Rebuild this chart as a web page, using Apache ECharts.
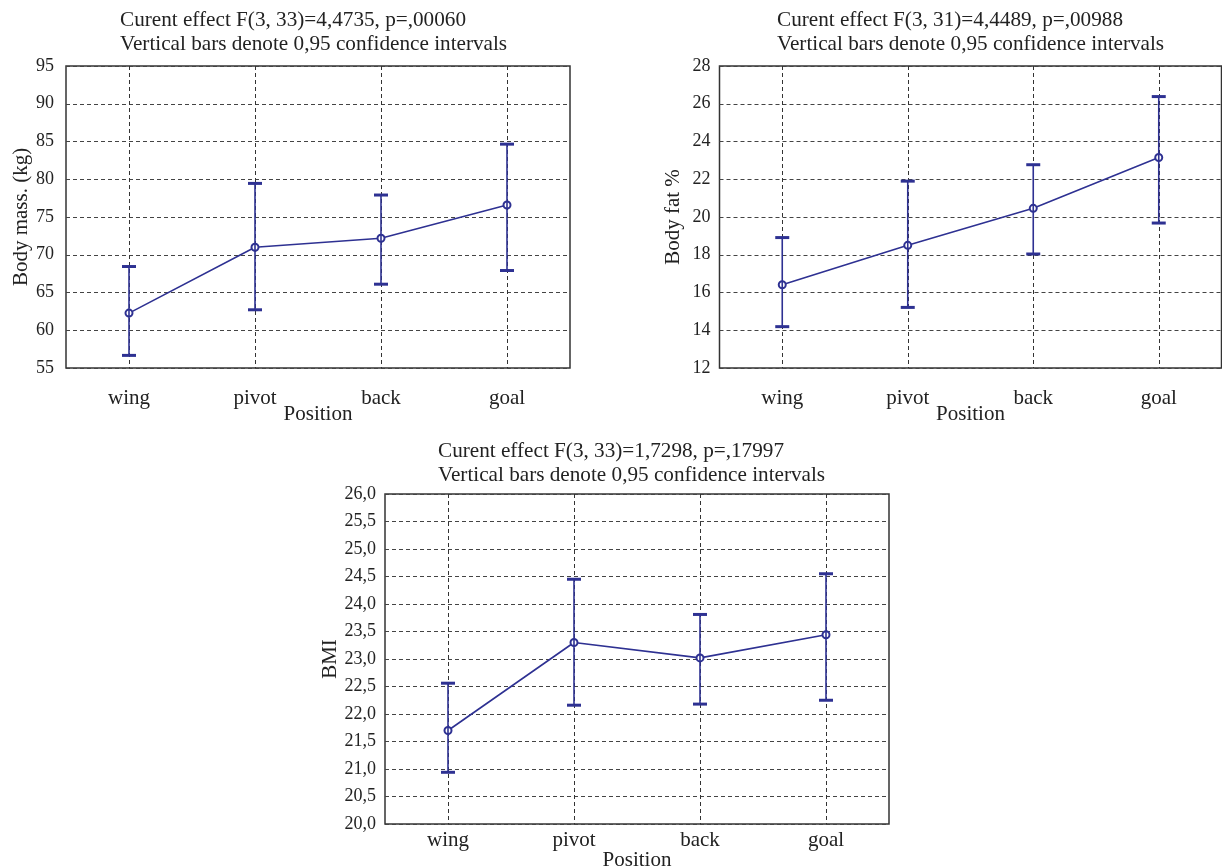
<!DOCTYPE html>
<html>
<head>
<meta charset="utf-8">
<script src="https://cdn.jsdelivr.net/npm/echarts@6/dist/echarts.min.js"></script>
<style>
html,body{margin:0;padding:0;background:#fff;overflow:hidden;}
#c{width:1222px;height:866px;}
</style>
</head>
<body>
<div id="c"></div>
<script>
const categories = ['wing', 'pivot', 'back', 'goal'];

const massMean = [62.27, 71.0, 72.18, 76.59];
const massLow  = [56.67, 62.71, 66.1, 67.91];
const massHigh = [68.44, 79.45, 77.91, 84.65];

const fatMean = [16.41, 18.5, 20.46, 23.15];
const fatLow  = [14.19, 15.21, 18.04, 19.68];
const fatHigh = [18.91, 21.9, 22.77, 26.38];

const bmiMean = [21.70, 23.30, 23.02, 23.44];
const bmiLow  = [20.94, 22.16, 22.18, 22.25];
const bmiHigh = [22.56, 24.45, 23.81, 24.55];

const massTicks = [55, 60, 65, 70, 75, 80, 85, 90, 95];
const fatTicks = [12, 14, 16, 18, 20, 22, 24, 26, 28];
const bmiTicks = [20.0, 20.5, 21.0, 21.5, 22.0, 22.5, 23.0, 23.5, 24.0, 24.5, 25.0, 25.5, 26.0];

const titles = [
  'Curent effect F(3, 33)=4,4735, p=,00060\nVertical bars denote 0,95 confidence intervals',
  'Curent effect F(3, 31)=4,4489, p=,00988\nVertical bars denote 0,95 confidence intervals',
  'Curent effect F(3, 33)=1,7298, p=,17997\nVertical bars denote 0,95 confidence intervals'
];
const yNames = ['Body mass. (kg)', 'Body fat %', 'BMI'];
const xName = 'Position';

const FONT = 'Liberation Serif';
const BLUE = '#2e3192';
const TXT = '#222';

const chart = echarts.init(document.getElementById('c'), null, {renderer: 'canvas'});

function errRender(params, api) {
  const i = api.value(0);
  const lo = api.coord([i, api.value(1)]);
  const hi = api.coord([i, api.value(2)]);
  const hw = 7;
  return {
    type: 'group',
    children: [
      {type: 'line', shape: {x1: hi[0], y1: hi[1], x2: lo[0], y2: lo[1]}, style: {stroke: BLUE, lineWidth: 1.6}},
      {type: 'line', shape: {x1: hi[0] - hw, y1: hi[1], x2: hi[0] + hw, y2: hi[1]}, style: {stroke: BLUE, lineWidth: 3}},
      {type: 'line', shape: {x1: lo[0] - hw, y1: lo[1], x2: lo[0] + hw, y2: lo[1]}, style: {stroke: BLUE, lineWidth: 3}}
    ]
  };
}

const grids = [
  {left: 66, top: 66, width: 504, height: 302},
  {left: 719.5, top: 66, width: 502, height: 302},
  {left: 385, top: 494, width: 504, height: 330}
];
const ticksArr = [massTicks, fatTicks, bmiTicks];
const means = [massMean, fatMean, bmiMean];
const lows = [massLow, fatLow, bmiLow];
const highs = [massHigh, fatHigh, bmiHigh];
const yLabelMargin = [12, 9, 9];
const yNameGap = [34, 36, 44];
const xLabelMargin = [20, 20, 6];
const xNameGap = [36, 36, 26];
const titlePos = [{left: 120, top: 8}, {left: 777, top: 8}, {left: 438, top: 439}];

const option = {
  animation: false,
  backgroundColor: '#fff',
  title: titles.map((t, k) => ({
    text: t,
    left: titlePos[k].left,
    top: titlePos[k].top,
    padding: 0,
    textStyle: {fontFamily: FONT, fontSize: 21.2, fontWeight: 'normal', color: TXT, lineHeight: 24}
  })),
  grid: grids.map(g => Object.assign({
    show: true, borderColor: '#333', borderWidth: 1.5, backgroundColor: 'transparent',
    containLabel: false, outerBoundsMode: 'none'
  }, g)),
  xAxis: grids.map((g, k) => ({
    type: 'category',
    gridIndex: k,
    data: categories,
    boundaryGap: true,
    name: xName,
    nameLocation: 'middle',
    nameGap: xNameGap[k],
    nameMoveOverlap: false,
    nameTextStyle: {fontFamily: FONT, fontSize: 21, color: TXT},
    axisLine: {show: false},
    axisTick: {show: false, alignWithLabel: true},
    axisLabel: {fontFamily: FONT, fontSize: 21, color: TXT, margin: xLabelMargin[k]},
    splitLine: {show: true, alignWithLabel: true, lineStyle: {color: '#333', type: [4, 3], width: 1}}
  })),
  yAxis: grids.map((g, k) => {
    const t = ticksArr[k];
    return {
      type: 'value',
      gridIndex: k,
      min: t[0],
      max: t[t.length - 1],
      interval: t[1] - t[0],
      name: yNames[k],
      nameLocation: 'middle',
      nameGap: yNameGap[k],
      nameMoveOverlap: false,
      nameTextStyle: {fontFamily: FONT, fontSize: 21, color: TXT},
      axisLine: {show: false},
      axisTick: {show: false},
      axisLabel: {
        fontFamily: FONT, fontSize: 18, color: TXT, margin: yLabelMargin[k],
        formatter: k === 2 ? (v => v.toFixed(1).replace('.', ',')) : (v => String(v))
      },
      splitLine: {show: true, lineStyle: {color: '#444', type: [4, 3], width: 1}}
    };
  }),
  series: []
};

for (let k = 0; k < 3; k++) {
  option.series.push({
    type: 'line',
    xAxisIndex: k,
    yAxisIndex: k,
    data: means[k],
    symbol: 'emptyCircle',
    symbolSize: 7,
    itemStyle: {color: BLUE, borderWidth: 1.1},
    lineStyle: {color: BLUE, width: 1.6},
    z: 3
  });
  option.series.push({
    type: 'custom',
    xAxisIndex: k,
    yAxisIndex: k,
    renderItem: errRender,
    data: categories.map((c, i) => [i, lows[k][i], highs[k][i]]),
    z: 4
  });
}

chart.setOption(option);
</script>
</body>
</html>
